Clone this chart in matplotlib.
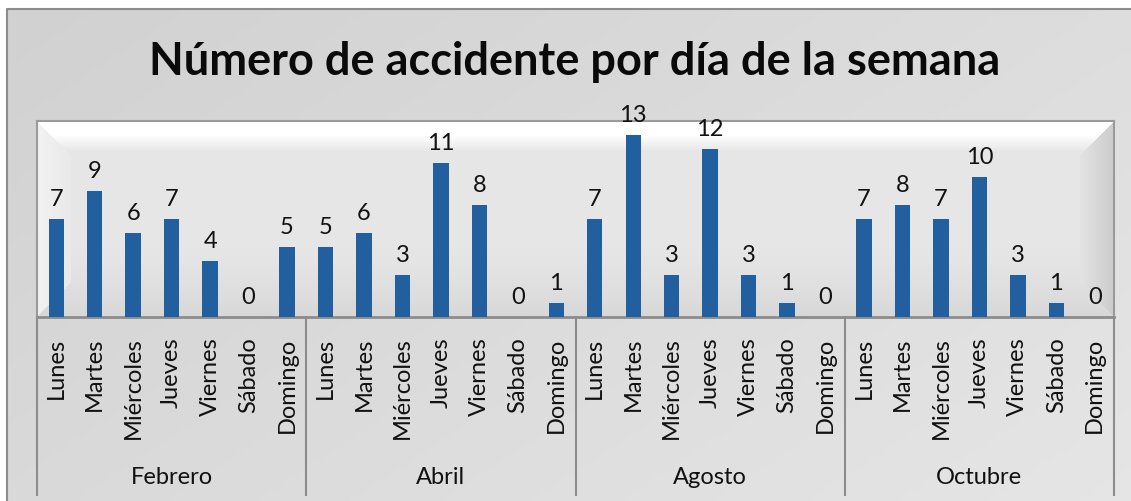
import numpy as np
import matplotlib.pyplot as plt
from matplotlib.transforms import blended_transform_factory

# ================= data =================
months = ["Febrero", "Abril", "Agosto", "Octubre"]
days = ["Lunes", "Martes", "Miércoles", "Jueves", "Viernes", "Sábado", "Domingo"]
feb = [7, 9, 6, 7, 4, 0, 5]
abr = [5, 6, 3, 11, 8, 0, 1]
ago = [7, 13, 3, 12, 3, 1, 0]
octu = [7, 8, 7, 10, 3, 1, 0]
values = feb + abr + ago + octu

W, H = 1131, 502
BAR = "#215F9F"
FS = 17
plt.rcParams['font.family'] = ['Lato', 'DejaVu Sans']

fig = plt.figure(figsize=(W / 100, H / 100), dpi=100)
fig.patch.set_facecolor("white")

# ---- outer chart area with soft diagonal gradient ----
bg = fig.add_axes([7 / W, 0, 1 - 7 / W, (H - 10) / H], zorder=-10)
gx, gy = np.meshgrid(np.linspace(0, 1, 200), np.linspace(0, 1, 100))
g = 0.82 + 0.08 * (0.6 * gx + 0.4 * gy)
bg.imshow(np.dstack([g, g, g]), aspect='auto', extent=[0, 1, 0, 1], origin='upper')
bg.set_xlim(0, 1)
bg.set_ylim(0, 1)
bg.axis('off')
bg.plot([0, 0, 1], [0, 1, 1], color="#8C8C8C", lw=1.5, clip_on=False)

# ---- plot area ----
x0, x1, y0, y1 = 37, 1114, 122, 318
ax = fig.add_axes([x0 / W, (H - y1) / H, (x1 - x0) / W, (y1 - y0) / H])
n = len(values)
ax.set_xlim(-0.5, n - 0.5)
ax.set_ylim(0, 14)

# bevelled background (pixel grid of plot area)
pw, ph = x1 - x0, y1 - y0
px, py = np.meshgrid(np.arange(pw) + 0.5, np.arange(ph) + 0.5)
img = np.full((ph, pw), 0.905)
img -= 0.06 * np.clip((py - 0.6 * ph) / (0.4 * ph), 0, 1) ** 1.5
top = np.clip(1 - (py - 14) / 16, 0, 1)
img = img * (1 - top) + 1.0 * top
bw = 34
dl, dr, dt, db = px, pw - px, py, ph - py
left_b = (dl < bw) & (dl < dt) & (dl < db)
right_b = (dr < bw) & (dr < dt) & (dr < db)
img = np.where(left_b, 0.915 + 0.035 * (1 - dl / bw), img)
img = np.where(right_b, 0.80 + 0.09 * (dr / bw), img)
ax.imshow(np.dstack([img, img, img]), aspect='auto',
          extent=[-0.5, n - 0.5, 0, 14], origin='upper', zorder=0)

xs = np.arange(n)
ax.bar(xs, values, width=0.4, color=BAR, zorder=3)
for x, v in zip(xs, values):
    ax.annotate(str(v), (x, v), xytext=(0, 7), textcoords='offset points',
                ha='center', va='bottom', fontsize=FS, color="#111111", zorder=4)

ax.set_xticks(xs)
ax.set_xticklabels(days * len(months), rotation=90, fontsize=FS, color="#111111")
ax.tick_params(axis='x', length=0, pad=14)
ax.set_yticks([])
for s in ["left", "right", "top"]:
    ax.spines[s].set_color("#9A9A9A")
    ax.spines[s].set_linewidth(1.5)
ax.spines["bottom"].set_color("#8C8C8C")
ax.spines["bottom"].set_linewidth(2)

# group separators and month labels
tr = blended_transform_factory(ax.transData, ax.transAxes)
sep_bottom = -(496 - y1) / (y1 - y0)
for k in range(len(months) + 1):
    xb = k * len(days) - 0.5
    ax.plot([xb, xb], [0, sep_bottom], transform=tr, color="#8C8C8C",
            lw=1.5, clip_on=False)
for k, m in enumerate(months):
    xc = k * len(days) + (len(days) - 1) / 2
    ax.text(xc, -(478 - y1) / (y1 - y0), m, transform=tr, ha='center',
            va='center', fontsize=FS, color="#111111")

fig.text(575 / W, 1 - 62 / H, "Número de accidente por día de la semana",
         ha='center', va='center', fontsize=32.5, fontweight='bold', color="#0A0A0A")

fig.savefig("out.png", dpi=100, facecolor=fig.get_facecolor())
